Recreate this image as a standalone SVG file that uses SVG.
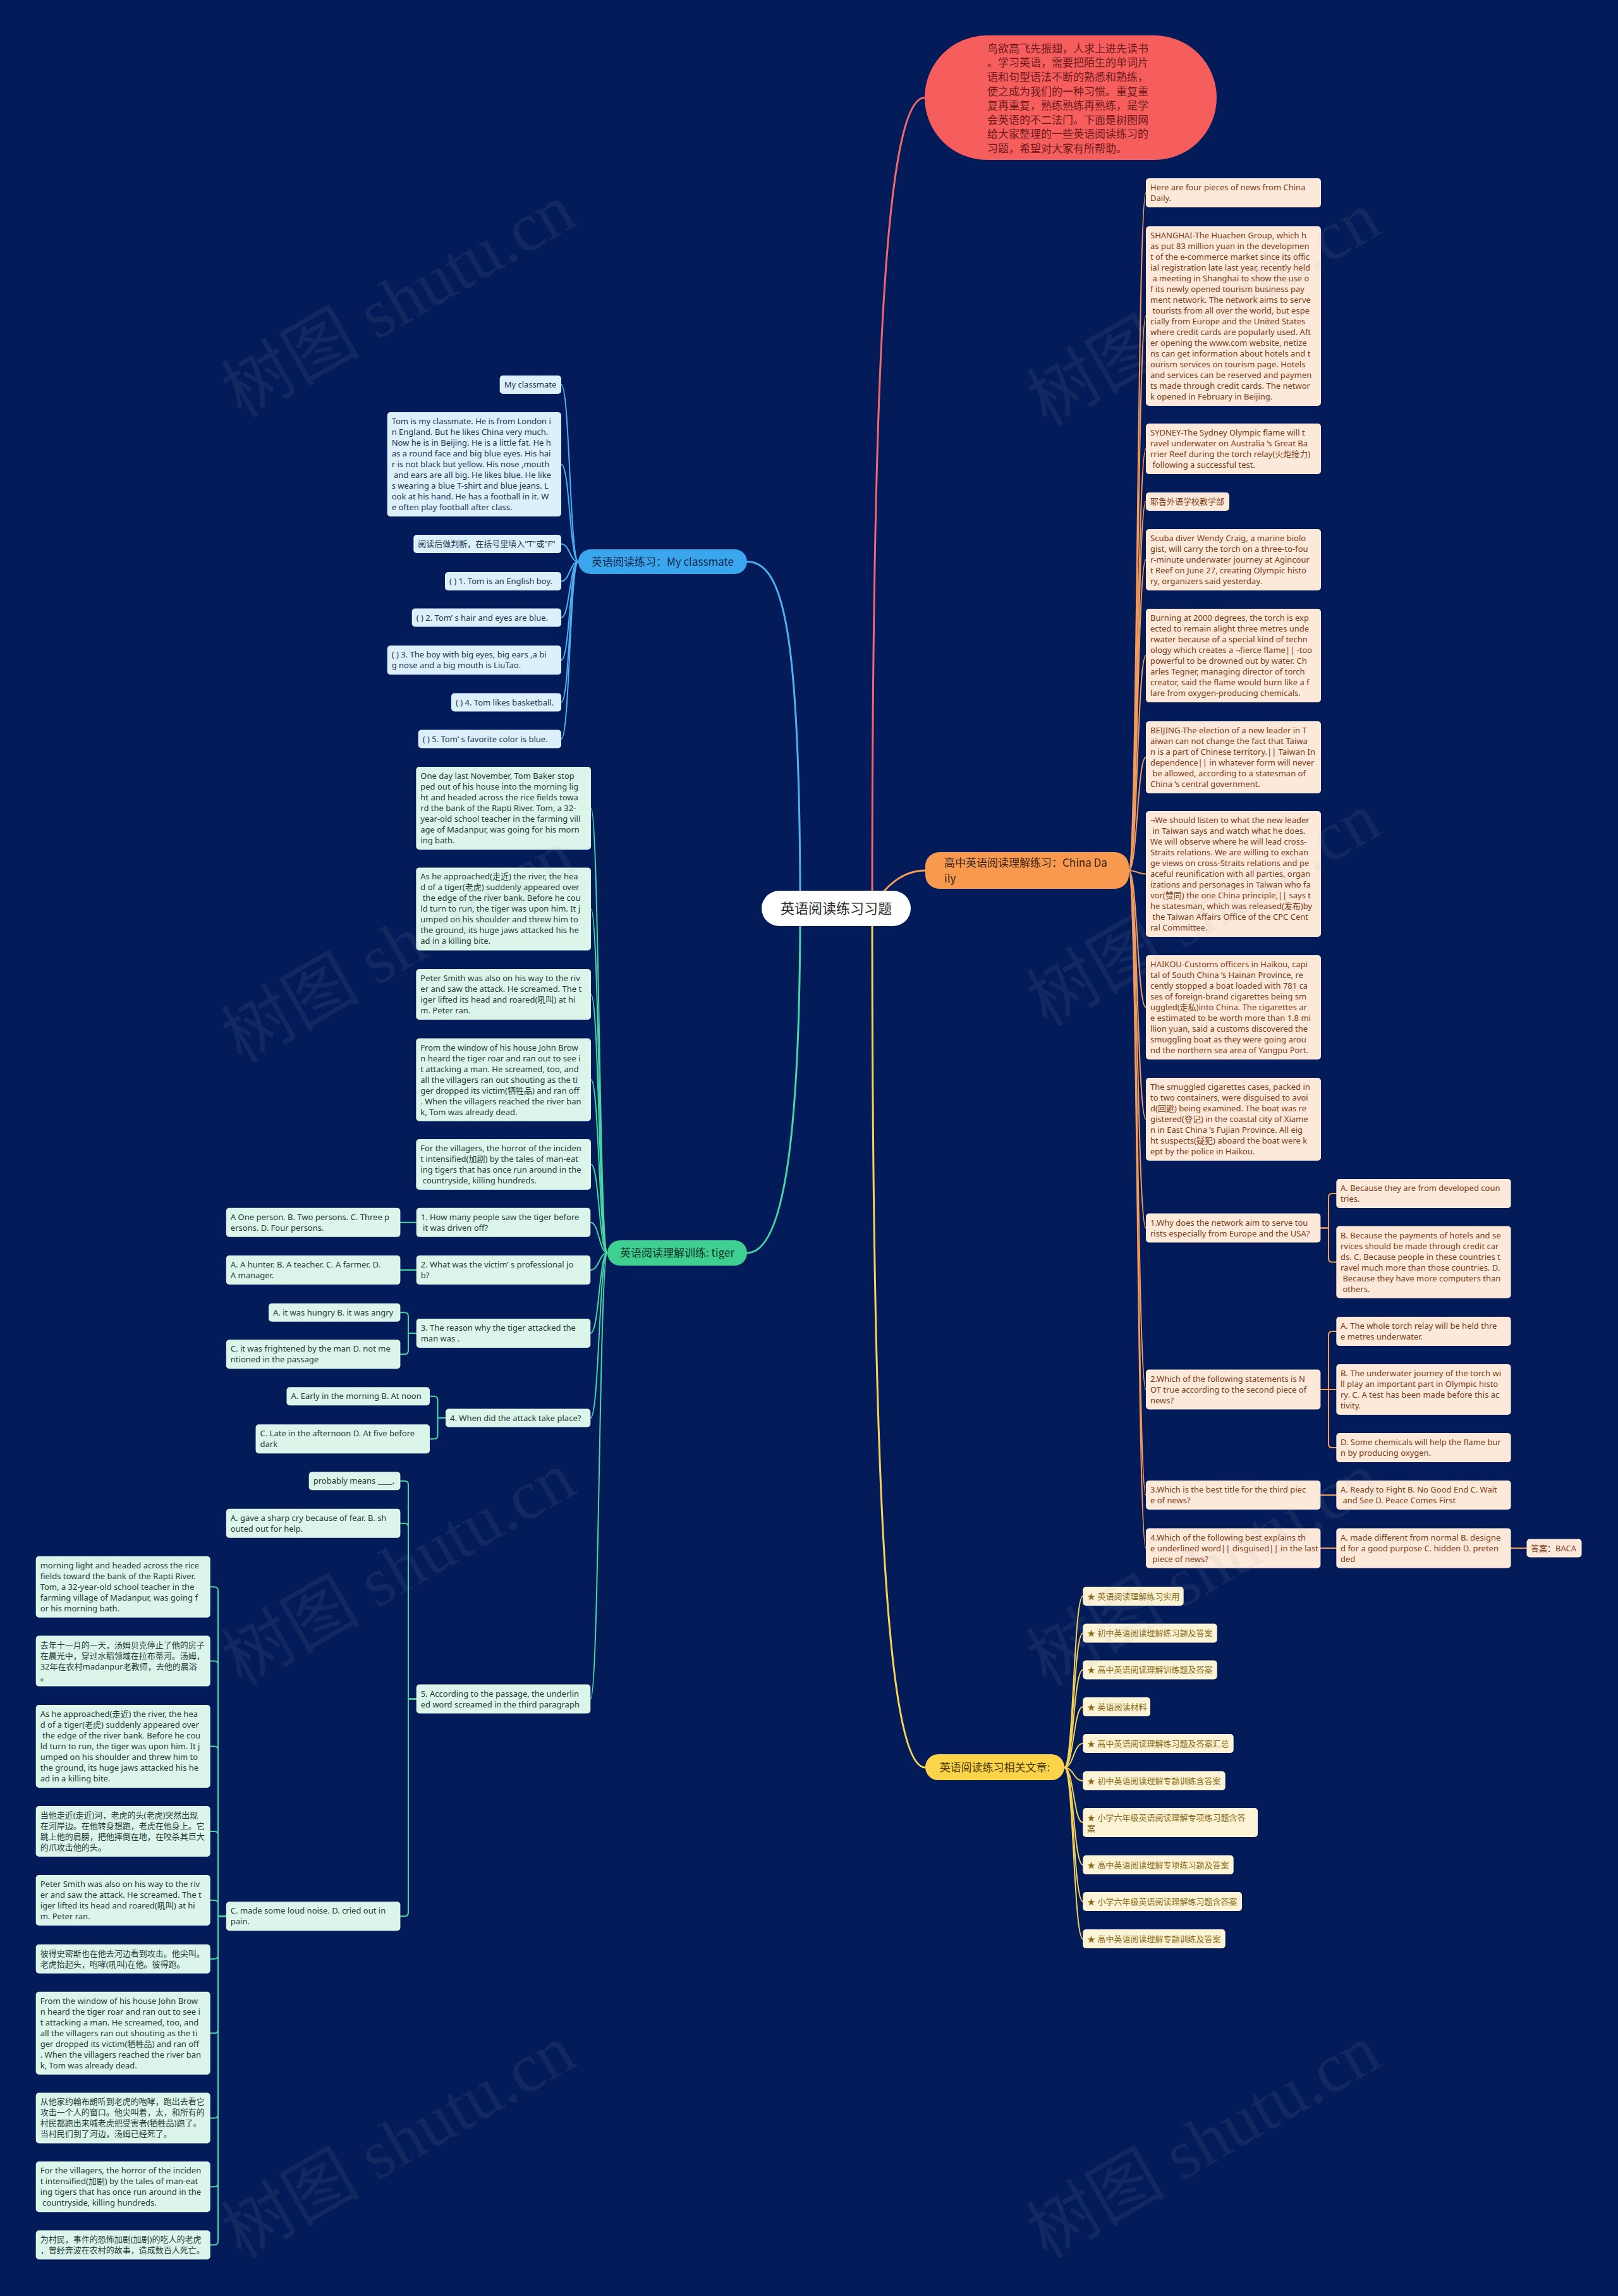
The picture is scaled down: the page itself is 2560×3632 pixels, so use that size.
<svg xmlns="http://www.w3.org/2000/svg" width="2560" height="3632" viewBox="0 0 2560 3632" xml:space="preserve">
<style>
text{font-family:"Noto Sans","Noto Sans CJK SC",sans-serif;font-size:13px}
.lo rect{fill:#fde9da}.lo text{fill:#7a3b14}
.lb rect{fill:#dcf0fb}.lb text{fill:#1b3452}
.lg rect{fill:#dbf5ea}.lg text{fill:#1f3b37}
.ly rect{fill:#fdf4d7}.ly text{fill:#8a6a12}
.br text{font-size:17px;font-family:"Noto Sans CJK SC","Noto Sans",sans-serif}
.c path{fill:none;stroke-width:2;stroke-linecap:round}
.root path{stroke-width:3}
.co path{stroke:#f39c5c}.cb path{stroke:#4fb0f0}.cg path{stroke:#48d6a3}.cy path{stroke:#f5d258}
.wm text{font-family:"Liberation Serif","Noto Sans CJK SC",serif;font-size:110px;fill:#a0a8c0;opacity:0.09}
</style>
<rect width="2560" height="3632" fill="#031b58"/>
<g id="connectors" class="c">
<g class="root">
<path stroke="#f0686a" d="M1380,1437 C1380,600 1400,154.5 1463,154.5"/>
<path stroke="#f39c5c" d="M1380,1437 C1400,1400 1430,1377 1464,1377"/>
<path stroke="#f5d258" d="M1380,1437 C1380,2300 1400,2796 1464,2796"/>
<path stroke="#4fb0f0" d="M1266,1437 C1266,1000 1240,888.5 1182,888.5"/>
<path stroke="#48d6a3" d="M1266,1437 C1266,1800 1240,1982 1182,1982"/>
</g>
<g class="co">
<path d="M1786,1377 C1799.5,1377 1799.5,305 1813,305"/>
<path d="M1786,1377 C1799.5,1377 1799.5,500 1813,500"/>
<path d="M1786,1377 C1799.5,1377 1799.5,710 1813,710"/>
<path d="M1786,1377 C1799.5,1377 1799.5,793.5 1813,793.5"/>
<path d="M1786,1377 C1799.5,1377 1799.5,885.5 1813,885.5"/>
<path d="M1786,1377 C1799.5,1377 1799.5,1037 1813,1037"/>
<path d="M1786,1377 C1799.5,1377 1799.5,1198 1813,1198"/>
<path d="M1786,1377 C1799.5,1377 1799.5,1382.5 1813,1382.5"/>
<path d="M1786,1377 C1799.5,1377 1799.5,1593.5 1813,1593.5"/>
<path d="M1786,1377 C1799.5,1377 1799.5,1770.5 1813,1770.5"/>
<path d="M1786,1377 C1799.5,1377 1799.5,1942.5 1813,1942.5"/>
<path d="M1786,1377 C1799.5,1377 1799.5,2198 1813,2198"/>
<path d="M1786,1377 C1799.5,1377 1799.5,2365 1813,2365"/>
<path d="M1786,1377 C1799.5,1377 1799.5,2449 1813,2449"/>
<path d="M2089.4,1942.5 H2102 V1894 Q2102,1888 2108,1888 H2114.3"/>
<path d="M2089.4,1942.5 H2102 V1990.5 Q2102,1996.5 2108,1996.5 H2114.3"/>
<path d="M2089.4,2198 H2102 V2112 Q2102,2106 2108,2106 H2114.3"/>
<path d="M2089.4,2198 H2114.3"/>
<path d="M2089.4,2198 H2102 V2284 Q2102,2290 2108,2290 H2114.3"/>
<path d="M2089.4,2365 H2114.3"/>
<path d="M2089.4,2449 H2114.3"/>
<path d="M2390.6,2449 H2415.5"/>
</g>
<g class="cb">
<path d="M915,888.5 C901.5,888.5 901.5,608.5 888,608.5"/>
<path d="M915,888.5 C901.5,888.5 901.5,734.5 888,734.5"/>
<path d="M915,888.5 C901.5,888.5 901.5,860.5 888,860.5"/>
<path d="M915,888.5 C901.5,888.5 901.5,919.5 888,919.5"/>
<path d="M915,888.5 C901.5,888.5 901.5,977 888,977"/>
<path d="M915,888.5 C901.5,888.5 901.5,1044.3 888,1044.3"/>
<path d="M915,888.5 C901.5,888.5 901.5,1111 888,1111"/>
<path d="M915,888.5 C901.5,888.5 901.5,1169 888,1169"/>
</g>
<g class="cg">
<path d="M961,1982 C948,1982 948,1278.5 935,1278.5"/>
<path d="M961,1982 C948,1982 948,1437.9 935,1437.9"/>
<path d="M961,1982 C948,1982 948,1573 935,1573"/>
<path d="M961,1982 C948,1982 948,1708 935,1708"/>
<path d="M961,1982 C948,1982 948,1842 935,1842"/>
<path d="M961,1982 C948,1982 948,1933.7 934.3,1933.7"/>
<path d="M961,1982 C948,1982 948,2009 934.3,2009"/>
<path d="M961,1982 C948,1982 948,2109 934.3,2109"/>
<path d="M961,1982 C948,1982 948,2243 934.3,2243"/>
<path d="M961,1982 C948,1982 948,2687.5 934.3,2687.5"/>
<path d="M658.7,1933.7 H633.4"/>
<path d="M658.7,2009 H633.4"/>
<path d="M658.7,2109 H646 V2082.2 Q646,2076.2 640,2076.2 H633.4"/>
<path d="M658.7,2109 H646 V2136.3 Q646,2142.3 640,2142.3 H633.4"/>
<path d="M705,2243 H692.5 V2214.8 Q692.5,2208.8 686.5,2208.8 H680"/>
<path d="M705,2243 H692.5 V2270.3 Q692.5,2276.3 686.5,2276.3 H680"/>
<path d="M658.7,2687.5 H646 V2348.8 Q646,2342.8 640,2342.8 H633.4"/>
<path d="M658.7,2687.5 H646 V2415.8 Q646,2409.8 640,2409.8 H633.4"/>
<path d="M658.7,2687.5 H646 V3025.2 Q646,3031.2 640,3031.2 H633.4"/>
<path d="M357.8,3031.2 H345 V2516.3 Q345,2510.3 339,2510.3 H332.7"/>
<path d="M357.8,3031.2 H345 V2633.6 Q345,2627.6 339,2627.6 H332.7"/>
<path d="M357.8,3031.2 H345 V2768.5 Q345,2762.5 339,2762.5 H332.7"/>
<path d="M357.8,3031.2 H345 V2903 Q345,2897 339,2897 H332.7"/>
<path d="M357.8,3031.2 H345 V3012 Q345,3006 339,3006 H332.7"/>
<path d="M357.8,3031.2 H345 V3092.7 Q345,3098.7 339,3098.7 H332.7"/>
<path d="M357.8,3031.2 H345 V3210.2 Q345,3216.2 339,3216.2 H332.7"/>
<path d="M357.8,3031.2 H345 V3344.4 Q345,3350.4 339,3350.4 H332.7"/>
<path d="M357.8,3031.2 H345 V3453.3 Q345,3459.3 339,3459.3 H332.7"/>
<path d="M357.8,3031.2 H345 V3545.2 Q345,3551.2 339,3551.2 H332.7"/>
</g>
<g class="cy">
<path d="M1684,2796 C1698.6,2796 1698.6,2525 1713.3,2525"/>
<path d="M1684,2796 C1698.6,2796 1698.6,2583.5 1713.3,2583.5"/>
<path d="M1684,2796 C1698.6,2796 1698.6,2641.5 1713.3,2641.5"/>
<path d="M1684,2796 C1698.6,2796 1698.6,2700 1713.3,2700"/>
<path d="M1684,2796 C1698.6,2796 1698.6,2758 1713.3,2758"/>
<path d="M1684,2796 C1698.6,2796 1698.6,2817 1713.3,2817"/>
<path d="M1684,2796 C1698.6,2796 1698.6,2883 1713.3,2883"/>
<path d="M1684,2796 C1698.6,2796 1698.6,2950 1713.3,2950"/>
<path d="M1684,2796 C1698.6,2796 1698.6,3008 1713.3,3008"/>
<path d="M1684,2796 C1698.6,2796 1698.6,3067 1713.3,3067"/>
</g>
</g>

<g id="n-root"><rect x="1205" y="1409" width="236" height="56" rx="28" fill="#ffffff"/><text x="1323" y="1445" text-anchor="middle" style="font-size:22px;font-family:'Noto Sans CJK SC',sans-serif" fill="#2a2a2a">英语阅读练习习题</text></g>

<g id="n-intro"><rect x="1463" y="56" width="462" height="197" rx="98.5" fill="#f65e5e"/><text fill="#6e1a1a" style="font-size:17px;font-family:'Noto Sans CJK SC',sans-serif"><tspan x="1562" y="82.7">鸟欲高飞先振翅，人求上进先读书</tspan><tspan x="1562" y="105.3">。学习英语，需要把陌生的单词片</tspan><tspan x="1562" y="127.9">语和句型语法不断的熟悉和熟练，</tspan><tspan x="1562" y="150.5">使之成为我们的一种习惯。重复重</tspan><tspan x="1562" y="173.1">复再重复，熟练熟练再熟练，是学</tspan><tspan x="1562" y="195.7">会英语的不二法门。下面是树图网</tspan><tspan x="1562" y="218.3">给大家整理的一些英语阅读练习的</tspan><tspan x="1562" y="240.9">习题，希望对大家有所帮助。</tspan></text></g>

<g id="n-branch-chinadaily" class="br"><rect x="1464" y="1348" width="322" height="58" rx="22" fill="#f79a4f"/><text fill="#3b2314"><tspan x="1494" y="1371">高中英语阅读理解练习：China Da</tspan><tspan x="1494" y="1396">ily</tspan></text></g>
<g id="n-branch-classmate" class="br"><rect x="915" y="869" width="267" height="39" rx="19.5" fill="#3aa6ee"/><text x="1048.5" y="894.5" text-anchor="middle" fill="#12294d">英语阅读练习：My classmate</text></g>
<g id="n-branch-tiger" class="br"><rect x="961" y="1962" width="221" height="40" rx="20" fill="#3ecf91"/><text x="1071.5" y="1988" text-anchor="middle" fill="#11382a">英语阅读理解训练: tiger</text></g>
<g id="n-branch-related" class="br"><rect x="1464" y="2775" width="220" height="41" rx="20.5" fill="#fcd449"/><text x="1574" y="2802" text-anchor="middle" fill="#4a3a05">英语阅读练习相关文章:</text></g>

<g class="lo">
<g id="n-cd-1"><rect x="1813" y="282" width="277" height="46" rx="5"/><text><tspan x="1820" y="301">Here are four pieces of news from China</tspan><tspan x="1820" y="318">Daily.</tspan></text></g>
<g id="n-cd-2"><rect x="1813" y="358" width="277" height="284" rx="5"/><text><tspan x="1820" y="377">SHANGHAI-The Huachen Group, which h</tspan><tspan x="1820" y="394">as put 83 million yuan in the developmen</tspan><tspan x="1820" y="411">t of the e-commerce market since its offic</tspan><tspan x="1820" y="428">ial registration late last year, recently held</tspan><tspan x="1820" y="445"> a meeting in Shanghai to show the use o</tspan><tspan x="1820" y="462">f its newly opened tourism business pay</tspan><tspan x="1820" y="479">ment network. The network aims to serve</tspan><tspan x="1820" y="496"> tourists from all over the world, but espe</tspan><tspan x="1820" y="513">cially from Europe and the United States</tspan><tspan x="1820" y="530">where credit cards are popularly used. Aft</tspan><tspan x="1820" y="547">er opening the www.com website, netize</tspan><tspan x="1820" y="564">ns can get information about hotels and t</tspan><tspan x="1820" y="581">ourism services on tourism page. Hotels</tspan><tspan x="1820" y="598">and services can be reserved and paymen</tspan><tspan x="1820" y="615">ts made through credit cards. The networ</tspan><tspan x="1820" y="632">k opened in February in Beijing.</tspan></text></g>
<g id="n-cd-3"><rect x="1813" y="670" width="277" height="80" rx="5"/><text><tspan x="1820" y="689">SYDNEY-The Sydney Olympic flame will t</tspan><tspan x="1820" y="706">ravel underwater on Australia ’s Great Ba</tspan><tspan x="1820" y="723">rrier Reef during the torch relay(火炬接力)</tspan><tspan x="1820" y="740"> following a successful test.</tspan></text></g>
<g id="n-cd-4"><rect x="1813" y="779" width="132" height="29" rx="5"/><text><tspan x="1820" y="798">耶鲁外语学校教学部</tspan></text></g>
<g id="n-cd-5"><rect x="1813" y="837" width="277" height="97" rx="5"/><text><tspan x="1820" y="856">Scuba diver Wendy Craig, a marine biolo</tspan><tspan x="1820" y="873">gist, will carry the torch on a three-to-fou</tspan><tspan x="1820" y="890">r-minute underwater journey at Agincour</tspan><tspan x="1820" y="907">t Reef on June 27, creating Olympic histo</tspan><tspan x="1820" y="924">ry, organizers said yesterday.</tspan></text></g>
<g id="n-cd-6"><rect x="1813" y="963" width="277" height="148" rx="5"/><text><tspan x="1820" y="982">Burning at 2000 degrees, the torch is exp</tspan><tspan x="1820" y="999">ected to remain alight three metres unde</tspan><tspan x="1820" y="1016">rwater because of a special kind of techn</tspan><tspan x="1820" y="1033">ology which creates a ¬fierce flame|| -too</tspan><tspan x="1820" y="1050">powerful to be drowned out by water. Ch</tspan><tspan x="1820" y="1067">arles Tegner, managing director of torch</tspan><tspan x="1820" y="1084">creator, said the flame would burn like a f</tspan><tspan x="1820" y="1101">lare from oxygen-producing chemicals.</tspan></text></g>
<g id="n-cd-7"><rect x="1813" y="1141" width="277" height="114" rx="5"/><text><tspan x="1820" y="1160">BEIJING-The election of a new leader in T</tspan><tspan x="1820" y="1177">aiwan can not change the fact that Taiwa</tspan><tspan x="1820" y="1194">n is a part of Chinese territory.|| Taiwan In</tspan><tspan x="1820" y="1211">dependence|| in whatever form will never</tspan><tspan x="1820" y="1228"> be allowed, according to a statesman of</tspan><tspan x="1820" y="1245">China ’s central government.</tspan></text></g>
<g id="n-cd-8"><rect x="1813" y="1283" width="277" height="199" rx="5"/><text><tspan x="1820" y="1302">¬We should listen to what the new leader</tspan><tspan x="1820" y="1319"> in Taiwan says and watch what he does.</tspan><tspan x="1820" y="1336">We will observe where he will lead cross-</tspan><tspan x="1820" y="1353">Straits relations. We are willing to exchan</tspan><tspan x="1820" y="1370">ge views on cross-Straits relations and pe</tspan><tspan x="1820" y="1387">aceful reunification with all parties, organ</tspan><tspan x="1820" y="1404">izations and personages in Taiwan who fa</tspan><tspan x="1820" y="1421">vor(赞同) the one China principle,|| says t</tspan><tspan x="1820" y="1438">he statesman, which was released(发布)by</tspan><tspan x="1820" y="1455"> the Taiwan Affairs Office of the CPC Cent</tspan><tspan x="1820" y="1472">ral Committee.</tspan></text></g>
<g id="n-cd-9"><rect x="1813" y="1511" width="277" height="165" rx="5"/><text><tspan x="1820" y="1530">HAIKOU-Customs officers in Haikou, capi</tspan><tspan x="1820" y="1547">tal of South China ’s Hainan Province, re</tspan><tspan x="1820" y="1564">cently stopped a boat loaded with 781 ca</tspan><tspan x="1820" y="1581">ses of foreign-brand cigarettes being sm</tspan><tspan x="1820" y="1598">uggled(走私)into China. The cigarettes ar</tspan><tspan x="1820" y="1615">e estimated to be worth more than 1.8 mi</tspan><tspan x="1820" y="1632">llion yuan, said a customs discovered the</tspan><tspan x="1820" y="1649">smuggling boat as they were going arou</tspan><tspan x="1820" y="1666">nd the northern sea area of Yangpu Port.</tspan></text></g>
<g id="n-cd-10"><rect x="1813" y="1705" width="277" height="131" rx="5"/><text><tspan x="1820" y="1724">The smuggled cigarettes cases, packed in</tspan><tspan x="1820" y="1741">to two containers, were disguised to avoi</tspan><tspan x="1820" y="1758">d(回避) being examined. The boat was re</tspan><tspan x="1820" y="1775">gistered(登记) in the coastal city of Xiame</tspan><tspan x="1820" y="1792">n in East China ’s Fujian Province. All eig</tspan><tspan x="1820" y="1809">ht suspects(疑犯) aboard the boat were k</tspan><tspan x="1820" y="1826">ept by the police in Haikou.</tspan></text></g>
<g id="n-cd-q1"><rect x="1813" y="1919.5" width="276.4" height="46" rx="5"/><text><tspan x="1820" y="1938.5">1.Why does the network aim to serve tou</tspan><tspan x="1820" y="1955.5">rists especially from Europe and the USA?</tspan></text></g>
<g id="n-cd-q2"><rect x="1813" y="2166.5" width="276.4" height="63" rx="5"/><text><tspan x="1820" y="2185.5">2.Which of the following statements is N</tspan><tspan x="1820" y="2202.5">OT true according to the second piece of</tspan><tspan x="1820" y="2219.5">news?</tspan></text></g>
<g id="n-cd-q3"><rect x="1813" y="2342" width="276.4" height="46" rx="5"/><text><tspan x="1820" y="2361">3.Which is the best title for the third piec</tspan><tspan x="1820" y="2378">e of news?</tspan></text></g>
<g id="n-cd-q4"><rect x="1813" y="2417.5" width="276.4" height="63" rx="5"/><text><tspan x="1820" y="2436.5">4.Which of the following best explains th</tspan><tspan x="1820" y="2453.5">e underlined word|| disguised|| in the last</tspan><tspan x="1820" y="2470.5"> piece of news?</tspan></text></g>
<g id="n-cd-o1a"><rect x="2114.3" y="1865" width="276.3" height="46" rx="5"/><text><tspan x="2121" y="1884">A. Because they are from developed coun</tspan><tspan x="2121" y="1901">tries.</tspan></text></g>
<g id="n-cd-o1b"><rect x="2114.3" y="1939.5" width="276.3" height="114" rx="5"/><text><tspan x="2121" y="1958.5">B. Because the payments of hotels and se</tspan><tspan x="2121" y="1975.5">rvices should be made through credit car</tspan><tspan x="2121" y="1992.5">ds. C. Because people in these countries t</tspan><tspan x="2121" y="2009.5">ravel much more than those countries. D.</tspan><tspan x="2121" y="2026.5"> Because they have more computers than</tspan><tspan x="2121" y="2043.5"> others.</tspan></text></g>
<g id="n-cd-o2a"><rect x="2114.3" y="2083" width="276.3" height="46" rx="5"/><text><tspan x="2121" y="2102">A. The whole torch relay will be held thre</tspan><tspan x="2121" y="2119">e metres underwater.</tspan></text></g>
<g id="n-cd-o2b"><rect x="2114.3" y="2158" width="276.3" height="80" rx="5"/><text><tspan x="2121" y="2177">B. The underwater journey of the torch wi</tspan><tspan x="2121" y="2194">ll play an important part in Olympic histo</tspan><tspan x="2121" y="2211">ry. C. A test has been made before this ac</tspan><tspan x="2121" y="2228">tivity.</tspan></text></g>
<g id="n-cd-o2c"><rect x="2114.3" y="2267" width="276.3" height="46" rx="5"/><text><tspan x="2121" y="2286">D. Some chemicals will help the flame bur</tspan><tspan x="2121" y="2303">n by producing oxygen.</tspan></text></g>
<g id="n-cd-o3"><rect x="2114.3" y="2342" width="276.3" height="46" rx="5"/><text><tspan x="2121" y="2361">A. Ready to Fight B. No Good End C. Wait</tspan><tspan x="2121" y="2378"> and See D. Peace Comes First</tspan></text></g>
<g id="n-cd-o4"><rect x="2114.3" y="2417.5" width="276.3" height="63" rx="5"/><text><tspan x="2121" y="2436.5">A. made different from normal B. designe</tspan><tspan x="2121" y="2453.5">d for a good purpose C. hidden D. preten</tspan><tspan x="2121" y="2470.5">ded</tspan></text></g>
<g id="n-cd-ans"><rect x="2415.5" y="2434.5" width="87" height="29" rx="5"/><text><tspan x="2422" y="2453.5">答案：BACA</tspan></text></g>
</g>

<g class="lb">
<g id="n-cm-1"><rect x="790.7" y="594" width="97.3" height="29" rx="5"/><text><tspan x="797.7" y="613">My classmate</tspan></text></g>
<g id="n-cm-2"><rect x="612.7" y="652" width="275.3" height="165" rx="5"/><text><tspan x="619.7" y="671">Tom is my classmate. He is from London i</tspan><tspan x="619.7" y="688">n England. But he likes China very much.</tspan><tspan x="619.7" y="705">Now he is in Beijing. He is a little fat. He h</tspan><tspan x="619.7" y="722">as a round face and big blue eyes. His hai</tspan><tspan x="619.7" y="739">r is not black but yellow. His nose ,mouth</tspan><tspan x="619.7" y="756"> and ears are all big. He likes blue. He like</tspan><tspan x="619.7" y="773">s wearing a blue T-shirt and blue jeans. L</tspan><tspan x="619.7" y="790">ook at his hand. He has a football in it. W</tspan><tspan x="619.7" y="807">e often play football after class.</tspan></text></g>
<g id="n-cm-3"><rect x="654.3" y="846" width="233.7" height="29" rx="5"/><text><tspan x="661.3" y="865">阅读后做判断，在括号里填入"T"或"F"</tspan></text></g>
<g id="n-cm-4"><rect x="704" y="905" width="184" height="29" rx="5"/><text><tspan x="711" y="924">( ) 1. Tom is an English boy.</tspan></text></g>
<g id="n-cm-5"><rect x="651.7" y="962.5" width="236.3" height="29" rx="5"/><text><tspan x="658.7" y="981.5">( ) 2. Tom’ s hair and eyes are blue.</tspan></text></g>
<g id="n-cm-6"><rect x="612.7" y="1021.3" width="275.3" height="46" rx="5"/><text><tspan x="619.7" y="1040.3">( ) 3. The boy with big eyes, big ears ,a bi</tspan><tspan x="619.7" y="1057.3">g nose and a big mouth is LiuTao.</tspan></text></g>
<g id="n-cm-7"><rect x="714" y="1096.5" width="174" height="29" rx="5"/><text><tspan x="721" y="1115.5">( ) 4. Tom likes basketball.</tspan></text></g>
<g id="n-cm-8"><rect x="661.7" y="1154.5" width="226.3" height="29" rx="5"/><text><tspan x="668.7" y="1173.5">( ) 5. Tom’ s favorite color is blue.</tspan></text></g>
</g>

<g class="lg">
<g id="n-tg-p1"><rect x="658.3" y="1213" width="276.7" height="131" rx="5"/><text><tspan x="665.3" y="1232">One day last November, Tom Baker stop</tspan><tspan x="665.3" y="1249">ped out of his house into the morning lig</tspan><tspan x="665.3" y="1266">ht and headed across the rice fields towa</tspan><tspan x="665.3" y="1283">rd the bank of the Rapti River. Tom, a 32-</tspan><tspan x="665.3" y="1300">year-old school teacher in the farming vill</tspan><tspan x="665.3" y="1317">age of Madanpur, was going for his morn</tspan><tspan x="665.3" y="1334">ing bath.</tspan></text></g>
<g id="n-tg-p2"><rect x="658.3" y="1372.4" width="276.7" height="131" rx="5"/><text><tspan x="665.3" y="1391.4">As he approached(走近) the river, the hea</tspan><tspan x="665.3" y="1408.4">d of a tiger(老虎) suddenly appeared over</tspan><tspan x="665.3" y="1425.4"> the edge of the river bank. Before he cou</tspan><tspan x="665.3" y="1442.4">ld turn to run, the tiger was upon him. It j</tspan><tspan x="665.3" y="1459.4">umped on his shoulder and threw him to</tspan><tspan x="665.3" y="1476.4">the ground, its huge jaws attacked his he</tspan><tspan x="665.3" y="1493.4">ad in a killing bite.</tspan></text></g>
<g id="n-tg-p3"><rect x="658.3" y="1533" width="276.7" height="80" rx="5"/><text><tspan x="665.3" y="1552">Peter Smith was also on his way to the riv</tspan><tspan x="665.3" y="1569">er and saw the attack. He screamed. The t</tspan><tspan x="665.3" y="1586">iger lifted its head and roared(吼叫) at hi</tspan><tspan x="665.3" y="1603">m. Peter ran.</tspan></text></g>
<g id="n-tg-p4"><rect x="658.3" y="1642.5" width="276.7" height="131" rx="5"/><text><tspan x="665.3" y="1661.5">From the window of his house John Brow</tspan><tspan x="665.3" y="1678.5">n heard the tiger roar and ran out to see i</tspan><tspan x="665.3" y="1695.5">t attacking a man. He screamed, too, and</tspan><tspan x="665.3" y="1712.5">all the villagers ran out shouting as the ti</tspan><tspan x="665.3" y="1729.5">ger dropped its victim(牺牲品) and ran off</tspan><tspan x="665.3" y="1746.5">. When the villagers reached the river ban</tspan><tspan x="665.3" y="1763.5">k, Tom was already dead.</tspan></text></g>
<g id="n-tg-p5"><rect x="658.3" y="1802" width="276.7" height="80" rx="5"/><text><tspan x="665.3" y="1821">For the villagers, the horror of the inciden</tspan><tspan x="665.3" y="1838">t intensified(加剧) by the tales of man-eat</tspan><tspan x="665.3" y="1855">ing tigers that has once run around in the</tspan><tspan x="665.3" y="1872"> countryside, killing hundreds.</tspan></text></g>
<g id="n-tg-q1"><rect x="658.7" y="1910.7" width="275.6" height="46" rx="5"/><text><tspan x="665.7" y="1929.7">1. How many people saw the tiger before</tspan><tspan x="665.7" y="1946.7"> it was driven off?</tspan></text></g>
<g id="n-tg-q2"><rect x="658.7" y="1986" width="275.6" height="46" rx="5"/><text><tspan x="665.7" y="2005">2. What was the victim’ s professional jo</tspan><tspan x="665.7" y="2022">b?</tspan></text></g>
<g id="n-tg-q3"><rect x="658.7" y="2086" width="275.6" height="46" rx="5"/><text><tspan x="665.7" y="2105">3. The reason why the tiger attacked the</tspan><tspan x="665.7" y="2122">man was .</tspan></text></g>
<g id="n-tg-q4"><rect x="705" y="2228.5" width="229.3" height="29" rx="5"/><text><tspan x="712" y="2247.5">4. When did the attack take place?</tspan></text></g>
<g id="n-tg-q5"><rect x="658.7" y="2664.5" width="275.6" height="46" rx="5"/><text><tspan x="665.7" y="2683.5">5. According to the passage, the underlin</tspan><tspan x="665.7" y="2700.5">ed word screamed in the third paragraph</tspan></text></g>
<g id="n-tg-a1"><rect x="357.8" y="1910.7" width="275.6" height="46" rx="5"/><text><tspan x="364.8" y="1929.7">A One person. B. Two persons. C. Three p</tspan><tspan x="364.8" y="1946.7">ersons. D. Four persons.</tspan></text></g>
<g id="n-tg-a2"><rect x="357.8" y="1986" width="275.6" height="46" rx="5"/><text><tspan x="364.8" y="2005">A. A hunter. B. A teacher. C. A farmer. D.</tspan><tspan x="364.8" y="2022">A manager.</tspan></text></g>
<g id="n-tg-a3a"><rect x="425" y="2061.7" width="208.4" height="29" rx="5"/><text><tspan x="432" y="2080.7">A. it was hungry B. it was angry</tspan></text></g>
<g id="n-tg-a3b"><rect x="357.8" y="2119.3" width="275.6" height="46" rx="5"/><text><tspan x="364.8" y="2138.3">C. it was frightened by the man D. not me</tspan><tspan x="364.8" y="2155.3">ntioned in the passage</tspan></text></g>
<g id="n-tg-a4a"><rect x="453.5" y="2194.3" width="226.5" height="29" rx="5"/><text><tspan x="460.5" y="2213.3">A. Early in the morning B. At noon</tspan></text></g>
<g id="n-tg-a4b"><rect x="404.5" y="2253.3" width="275.5" height="46" rx="5"/><text><tspan x="411.5" y="2272.3">C. Late in the afternoon D. At five before</tspan><tspan x="411.5" y="2289.3">dark</tspan></text></g>
<g id="n-tg-a5a"><rect x="488.7" y="2328.3" width="144.7" height="29" rx="5"/><text><tspan x="495.7" y="2347.3">probably means ____.</tspan></text></g>
<g id="n-tg-a5b"><rect x="357.8" y="2386.8" width="275.6" height="46" rx="5"/><text><tspan x="364.8" y="2405.8">A. gave a sharp cry because of fear. B. sh</tspan><tspan x="364.8" y="2422.8">outed out for help.</tspan></text></g>
<g id="n-tg-a5c"><rect x="357.8" y="3008.2" width="275.6" height="46" rx="5"/><text><tspan x="364.8" y="3027.2">C. made some loud noise. D. cried out in</tspan><tspan x="364.8" y="3044.2">pain.</tspan></text></g>
<g id="n-tg-f1"><rect x="56.7" y="2461.8" width="276" height="97" rx="5"/><text><tspan x="63.7" y="2480.8">morning light and headed across the rice</tspan><tspan x="63.7" y="2497.8">fields toward the bank of the Rapti River.</tspan><tspan x="63.7" y="2514.8">Tom, a 32-year-old school teacher in the</tspan><tspan x="63.7" y="2531.8">farming village of Madanpur, was going f</tspan><tspan x="63.7" y="2548.8">or his morning bath.</tspan></text></g>
<g id="n-tg-f2"><rect x="56.7" y="2587.6" width="276" height="80" rx="5"/><text><tspan x="63.7" y="2606.6">去年十一月的一天，汤姆贝克停止了他的房子</tspan><tspan x="63.7" y="2623.6">在晨光中，穿过水稻领域在拉布蒂河。汤姆，</tspan><tspan x="63.7" y="2640.6">32年在农村madanpur老教师，去他的晨浴</tspan><tspan x="63.7" y="2657.6">。</tspan></text></g>
<g id="n-tg-f3"><rect x="56.7" y="2697" width="276" height="131" rx="5"/><text><tspan x="63.7" y="2716">As he approached(走近) the river, the hea</tspan><tspan x="63.7" y="2733">d of a tiger(老虎) suddenly appeared over</tspan><tspan x="63.7" y="2750"> the edge of the river bank. Before he cou</tspan><tspan x="63.7" y="2767">ld turn to run, the tiger was upon him. It j</tspan><tspan x="63.7" y="2784">umped on his shoulder and threw him to</tspan><tspan x="63.7" y="2801">the ground, its huge jaws attacked his he</tspan><tspan x="63.7" y="2818">ad in a killing bite.</tspan></text></g>
<g id="n-tg-f4"><rect x="56.7" y="2857" width="276" height="80" rx="5"/><text><tspan x="63.7" y="2876">当他走近(走近)河，老虎的头(老虎)突然出现</tspan><tspan x="63.7" y="2893">在河岸边。在他转身想跑，老虎在他身上。它</tspan><tspan x="63.7" y="2910">跳上他的肩膀，把他摔倒在地，在咬杀其巨大</tspan><tspan x="63.7" y="2927">的爪攻击他的头。</tspan></text></g>
<g id="n-tg-f5"><rect x="56.7" y="2966" width="276" height="80" rx="5"/><text><tspan x="63.7" y="2985">Peter Smith was also on his way to the riv</tspan><tspan x="63.7" y="3002">er and saw the attack. He screamed. The t</tspan><tspan x="63.7" y="3019">iger lifted its head and roared(吼叫) at hi</tspan><tspan x="63.7" y="3036">m. Peter ran.</tspan></text></g>
<g id="n-tg-f6"><rect x="56.7" y="3075.7" width="276" height="46" rx="5"/><text><tspan x="63.7" y="3094.7">彼得史密斯也在他去河边看到攻击。他尖叫。</tspan><tspan x="63.7" y="3111.7">老虎抬起头，咆哮(吼叫)在他。彼得跑。</tspan></text></g>
<g id="n-tg-f7"><rect x="56.7" y="3150.7" width="276" height="131" rx="5"/><text><tspan x="63.7" y="3169.7">From the window of his house John Brow</tspan><tspan x="63.7" y="3186.7">n heard the tiger roar and ran out to see i</tspan><tspan x="63.7" y="3203.7">t attacking a man. He screamed, too, and</tspan><tspan x="63.7" y="3220.7">all the villagers ran out shouting as the ti</tspan><tspan x="63.7" y="3237.7">ger dropped its victim(牺牲品) and ran off</tspan><tspan x="63.7" y="3254.7">. When the villagers reached the river ban</tspan><tspan x="63.7" y="3271.7">k, Tom was already dead.</tspan></text></g>
<g id="n-tg-f8"><rect x="56.7" y="3310.4" width="276" height="80" rx="5"/><text><tspan x="63.7" y="3329.4">从他家约翰布朗听到老虎的咆哮，跑出去看它</tspan><tspan x="63.7" y="3346.4">攻击一个人的窗口。他尖叫着，太，和所有的</tspan><tspan x="63.7" y="3363.4">村民都跑出来喊老虎把受害者(牺牲品)跑了。</tspan><tspan x="63.7" y="3380.4">当村民们到了河边，汤姆已经死了。</tspan></text></g>
<g id="n-tg-f9"><rect x="56.7" y="3419.3" width="276" height="80" rx="5"/><text><tspan x="63.7" y="3438.3">For the villagers, the horror of the inciden</tspan><tspan x="63.7" y="3455.3">t intensified(加剧) by the tales of man-eat</tspan><tspan x="63.7" y="3472.3">ing tigers that has once run around in the</tspan><tspan x="63.7" y="3489.3"> countryside, killing hundreds.</tspan></text></g>
<g id="n-tg-f10"><rect x="56.7" y="3528.2" width="276" height="46" rx="5"/><text><tspan x="63.7" y="3547.2">为村民，事件的恐怖加剧(加剧)的吃人的老虎</tspan><tspan x="63.7" y="3564.2">，曾经奔波在农村的故事，造成数百人死亡。</tspan></text></g>
</g>

<g class="ly">
<g id="n-rel-1"><rect x="1713.3" y="2510" width="159.4" height="30" rx="5"/><text><tspan x="1720" y="2529.5">★ 英语阅读理解练习实用</tspan></text></g>
<g id="n-rel-2"><rect x="1713.3" y="2568.5" width="212.4" height="30" rx="5"/><text><tspan x="1720" y="2588">★ 初中英语阅读理解练习题及答案</tspan></text></g>
<g id="n-rel-3"><rect x="1713.3" y="2626.5" width="212.4" height="30" rx="5"/><text><tspan x="1720" y="2646">★ 高中英语阅读理解训练题及答案</tspan></text></g>
<g id="n-rel-4"><rect x="1713.3" y="2685" width="106.7" height="30" rx="5"/><text><tspan x="1720" y="2704.5">★ 英语阅读材料</tspan></text></g>
<g id="n-rel-5"><rect x="1713.3" y="2743" width="238.4" height="30" rx="5"/><text><tspan x="1720" y="2762.5">★ 高中英语阅读理解练习题及答案汇总</tspan></text></g>
<g id="n-rel-6"><rect x="1713.3" y="2802" width="225.4" height="30" rx="5"/><text><tspan x="1720" y="2821.5">★ 初中英语阅读理解专题训练含答案</tspan></text></g>
<g id="n-rel-7"><rect x="1713.3" y="2860" width="276.7" height="46" rx="5"/><text><tspan x="1720" y="2880">★ 小学六年级英语阅读理解专项练习题含答</tspan><tspan x="1720" y="2897">案</tspan></text></g>
<g id="n-rel-8"><rect x="1713.3" y="2935" width="238.4" height="30" rx="5"/><text><tspan x="1720" y="2954.5">★ 高中英语阅读理解专项练习题及答案</tspan></text></g>
<g id="n-rel-9"><rect x="1713.3" y="2993" width="251.7" height="30" rx="5"/><text><tspan x="1720" y="3012.5">★ 小学六年级英语阅读理解练习题含答案</tspan></text></g>
<g id="n-rel-10"><rect x="1713.3" y="3052" width="225.4" height="30" rx="5"/><text><tspan x="1720" y="3071.5">★ 高中英语阅读理解专题训练及答案</tspan></text></g>
</g>

<g class="wm">
<text transform="translate(649,508) rotate(-30)" text-anchor="middle">树图 shutu.cn</text>
<text transform="translate(1923,521) rotate(-30)" text-anchor="middle">树图 shutu.cn</text>
<text transform="translate(649,1529) rotate(-30)" text-anchor="middle">树图 shutu.cn</text>
<text transform="translate(1923,1471) rotate(-30)" text-anchor="middle">树图 shutu.cn</text>
<text transform="translate(649,2514) rotate(-30)" text-anchor="middle">树图 shutu.cn</text>
<text transform="translate(1923,2514) rotate(-30)" text-anchor="middle">树图 shutu.cn</text>
<text transform="translate(649,3420) rotate(-30)" text-anchor="middle">树图 shutu.cn</text>
<text transform="translate(1923,3420) rotate(-30)" text-anchor="middle">树图 shutu.cn</text>
</g>
</svg>
